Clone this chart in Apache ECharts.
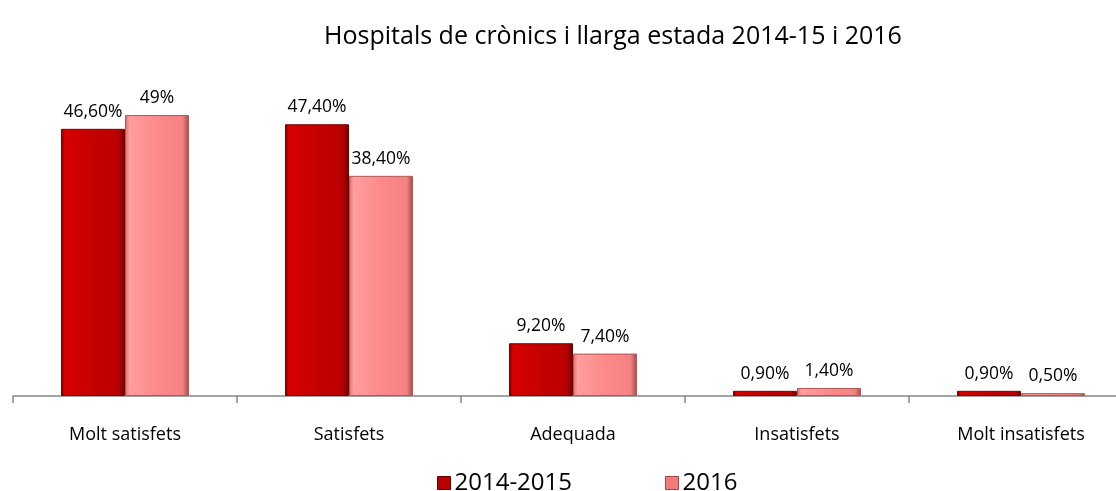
<!DOCTYPE html>
<html><head><meta charset="utf-8">
<script src="https://cdn.jsdelivr.net/npm/echarts@6/dist/echarts.min.js"></script>
<style>html,body{margin:0;padding:0;background:#fff}#c{width:1116px;height:491px}</style>
</head><body><div id="c"></div>
<script>
const categories = ['Molt satisfets','Satisfets','Adequada','Insatisfets','Molt insatisfets'];
const series2014 = [46.6, 47.4, 9.2, 0.9, 0.9];
const series2016 = [49, 38.4, 7.4, 1.4, 0.5];
const labels2014 = ['46,60%','47,40%','9,20%','0,90%','0,90%'];
const labels2016 = ['49%','38,40%','7,40%','1,40%','0,50%'];
const seriesNames = ['2014-2015','2016'];

const FONT = 'Open Sans';
function grad(stops){return {type:'linear',x:0,y:0,x2:1,y2:0,colorStops:stops.map(c=>({offset:c[0],color:c[1]}))};}
const darkGrad = grad([[0,'#8a0000'],[0.07,'#d80000'],[0.5,'#c40000'],[0.9,'#b80000'],[1,'#6a0000']]);
const pinkGrad = grad([[0,'#d86a6a'],[0.07,'#ff9e9e'],[0.5,'#fc8a8a'],[0.9,'#f48282'],[1,'#a04848']]);

const chart = echarts.init(document.getElementById('c'));
chart.setOption({
  animation:false,
  title:{text:'Hospitals de crònics i llarga estada 2014-15 i 2016',left:608,top:19,textAlign:'center',
    textStyle:{fontFamily:FONT,fontSize:25,fontWeight:'normal',color:'#000'}},
  legend:{top:466,left:432,itemGap:93,itemWidth:13,itemHeight:13,icon:'rect',
    textStyle:{fontFamily:FONT,fontSize:24,color:'#000',padding:[0,0,0,-1]},
    data:[{name:seriesNames[0],itemStyle:{color:'#b80000',borderColor:'#6a0000',borderWidth:1}},
          {name:seriesNames[1],itemStyle:{color:'#f07c7c',borderColor:'#a04848',borderWidth:1}}]},
  grid:{left:13,width:1120,top:52,bottom:95,containLabel:false,outerBoundsMode:'none'},
  xAxis:{type:'category',data:categories,
    axisLine:{lineStyle:{color:'#868686',width:1.5}},
    axisTick:{show:true,length:7,lineStyle:{color:'#868686',width:1.5}},
    axisLabel:{fontFamily:FONT,fontSize:18,color:'#000',margin:30}},
  yAxis:{type:'value',min:0,max:60,show:false,splitLine:{show:false}},
  series:[
    {name:seriesNames[0],type:'bar',data:series2014,barWidth:64,barGap:'0%',
      itemStyle:{color:darkGrad,borderColor:'#7a0000',borderWidth:1},
      label:{show:true,position:'top',distance:8,fontFamily:FONT,fontSize:17.5,color:'#000',
        formatter:p=>labels2014[p.dataIndex]}},
    {name:seriesNames[1],type:'bar',data:series2016,barWidth:64,barGap:'0%',
      itemStyle:{color:pinkGrad,borderColor:'#b05858',borderWidth:1},
      label:{show:true,position:'top',distance:8,fontFamily:FONT,fontSize:17.5,color:'#000',
        formatter:p=>labels2016[p.dataIndex]}}
  ]
});
</script></body></html>
